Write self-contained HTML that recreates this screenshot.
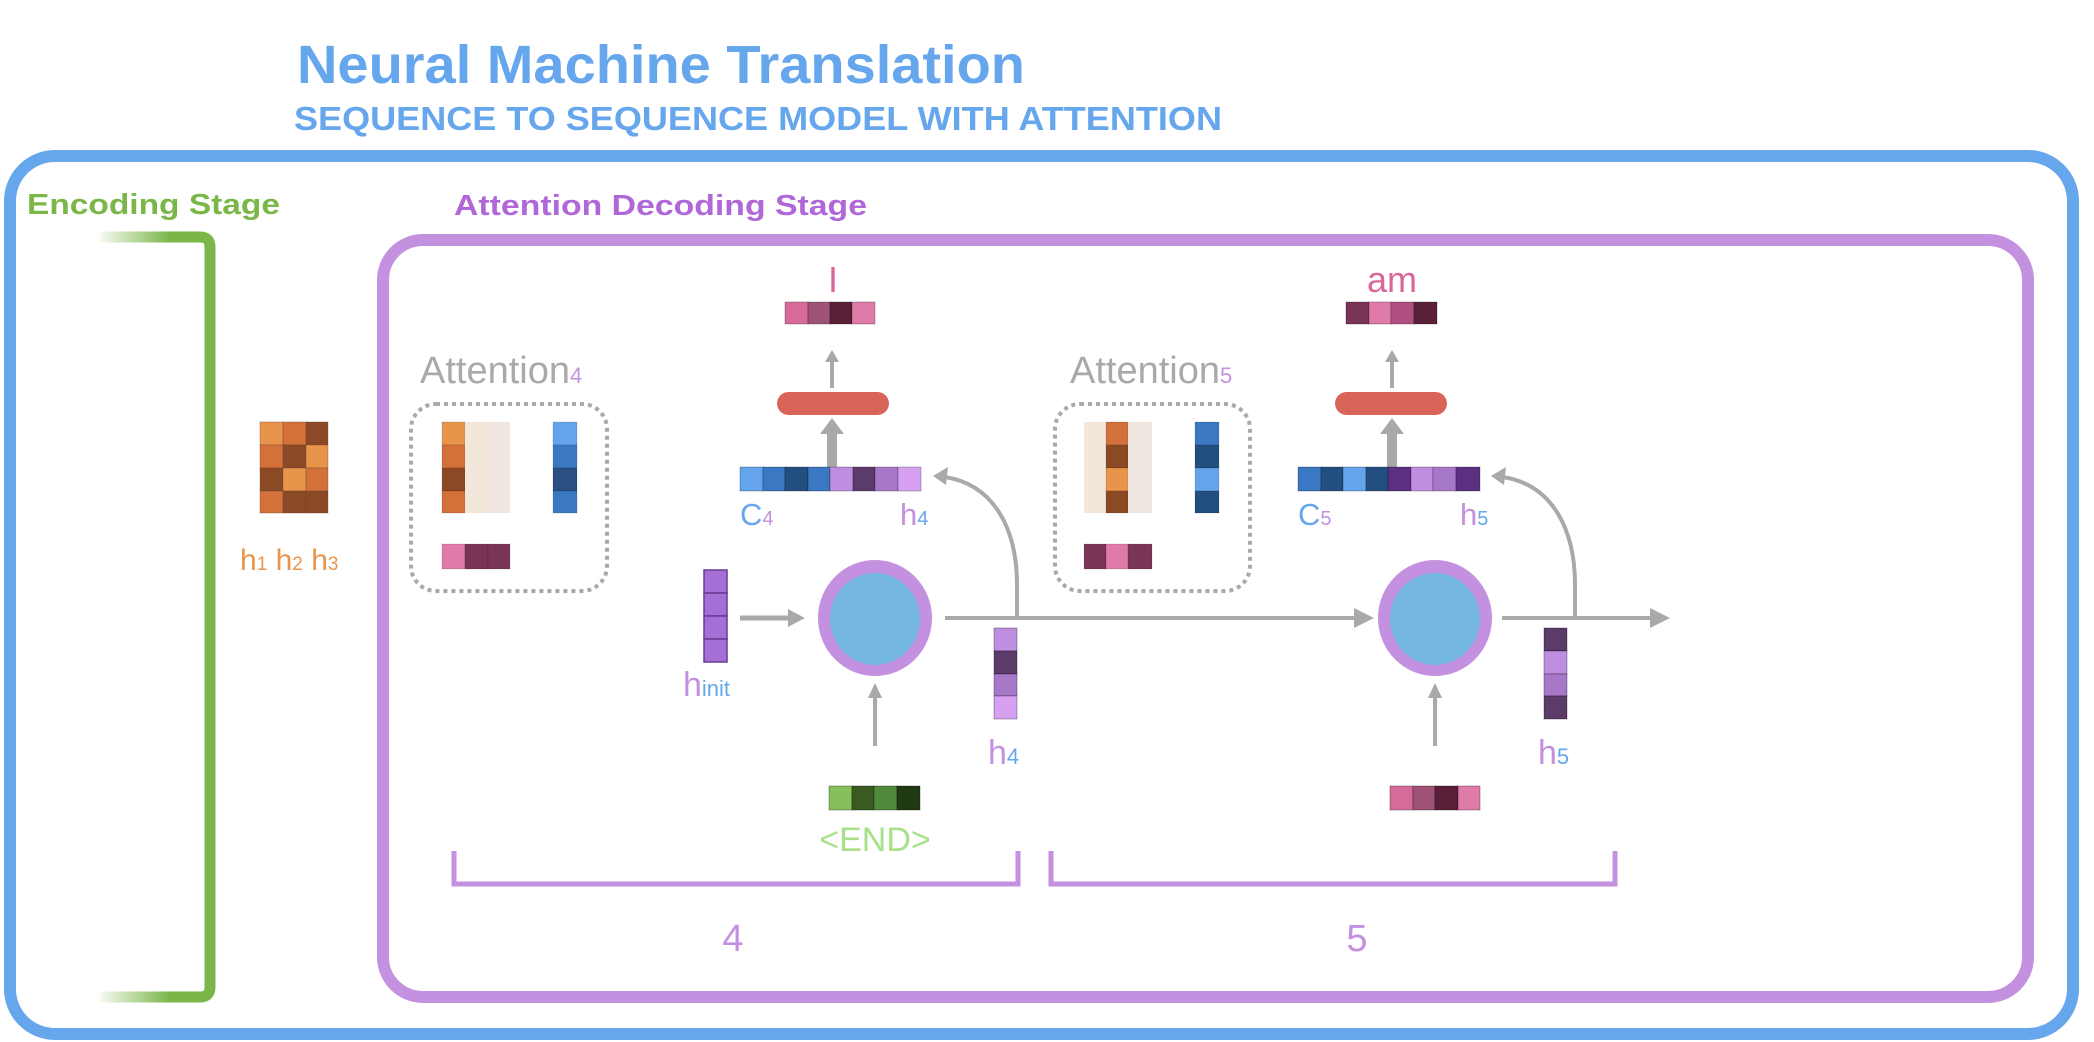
<!DOCTYPE html>
<html><head><meta charset="utf-8"><style>html,body{margin:0;padding:0;background:#fff;}svg{display:block}</style></head>
<body>
<svg width="2094" height="1042" viewBox="0 0 2094 1042" xmlns="http://www.w3.org/2000/svg" font-family="Liberation Sans, DejaVu Sans, sans-serif">
<defs>
<linearGradient id="wf" x1="0" x2="1"><stop offset="0" stop-color="#fff"/><stop offset="1" stop-color="#fff" stop-opacity="0"/></linearGradient>
</defs>
<text x="297" y="83" font-size="54" font-weight="bold" fill="#65a6ec" textLength="728" lengthAdjust="spacingAndGlyphs">Neural Machine Translation</text>
<text x="294" y="130" font-size="33" font-weight="bold" fill="#65a6ec" textLength="928" lengthAdjust="spacingAndGlyphs">SEQUENCE TO SEQUENCE MODEL WITH ATTENTION</text>
<rect x="10" y="156" width="2063" height="878" rx="45" fill="none" stroke="#65a6ec" stroke-width="12"/>
<text x="27" y="214" font-size="29" font-weight="bold" fill="#7ab648" textLength="253" lengthAdjust="spacingAndGlyphs">Encoding Stage</text>
<text x="454" y="215" font-size="29" font-weight="bold" fill="#b068d8" textLength="413" lengthAdjust="spacingAndGlyphs">Attention Decoding Stage</text>
<path d="M100,237 H200 Q210,237 210,247 V987 Q210,997 200,997 H100" fill="none" stroke="#7ab648" stroke-width="11"/>
<rect x="95" y="230" width="75" height="14" fill="url(#wf)"/>
<rect x="95" y="990" width="75" height="14" fill="url(#wf)"/>
<rect x="383" y="240" width="1645" height="757" rx="40" fill="none" stroke="#c490e0" stroke-width="12"/>

<g stroke="#6a4030" stroke-opacity="0.35" stroke-width="1">
<rect x="260" y="422" width="23" height="23" fill="#e8944a"/><rect x="283" y="422" width="23" height="23" fill="#d4703a"/><rect x="306" y="422" width="22" height="23" fill="#8b4a25"/>
<rect x="260" y="445" width="23" height="23" fill="#d4703a"/><rect x="283" y="445" width="23" height="23" fill="#8b4a25"/><rect x="306" y="445" width="22" height="23" fill="#e8944a"/>
<rect x="260" y="468" width="23" height="23" fill="#8b4a25"/><rect x="283" y="468" width="23" height="23" fill="#e8944a"/><rect x="306" y="468" width="22" height="23" fill="#d4703a"/>
<rect x="260" y="491" width="23" height="22" fill="#d4703a"/><rect x="283" y="491" width="23" height="22" fill="#8b4a25"/><rect x="306" y="491" width="22" height="22" fill="#8b4a25"/>
</g>
<text x="240" y="570" font-size="30" fill="#e8944a">h<tspan font-size="19">1</tspan> h<tspan font-size="19">2</tspan> h<tspan font-size="19">3</tspan></text>

<text x="420" y="383" font-size="38" fill="#a9a9a9">Attention<tspan font-size="22" fill="#c490e0">4</tspan></text>
<rect x="411" y="404" width="196" height="187" rx="25" fill="none" stroke="#a9a9a9" stroke-width="4" stroke-dasharray="4,4"/>
<g stroke="#000" stroke-opacity="0.12">
<rect x="442" y="422" width="23" height="23" fill="#e8944a"/><rect x="442" y="445" width="23" height="23" fill="#d4703a"/><rect x="442" y="468" width="23" height="23" fill="#8b4a25"/><rect x="442" y="491" width="23" height="22" fill="#d4703a"/>
<rect x="465" y="422" width="23" height="91" fill="#f3e6da" stroke="none"/><rect x="488" y="422" width="22" height="91" fill="#efe6e0" stroke="none"/>
<rect x="553" y="422" width="24" height="23" fill="#63a4ec"/><rect x="553" y="445" width="24" height="23" fill="#3a78c4"/><rect x="553" y="468" width="24" height="23" fill="#2a4f80"/><rect x="553" y="491" width="24" height="22" fill="#3a78c4"/>
<rect x="442" y="544" width="23" height="25" fill="#e07aa8"/><rect x="465" y="544" width="23" height="25" fill="#7a3556"/><rect x="488" y="544" width="22" height="25" fill="#7a3556"/>
</g>

<text x="1070" y="383" font-size="38" fill="#a9a9a9">Attention<tspan font-size="22" fill="#c490e0">5</tspan></text>
<rect x="1055" y="404" width="195" height="187" rx="25" fill="none" stroke="#a9a9a9" stroke-width="4" stroke-dasharray="4,4"/>
<g stroke="#000" stroke-opacity="0.12">
<rect x="1084" y="422" width="22" height="91" fill="#f3e6da" stroke="none"/>
<rect x="1106" y="422" width="22" height="23" fill="#d4703a"/><rect x="1106" y="445" width="22" height="23" fill="#8b4a25"/><rect x="1106" y="468" width="22" height="23" fill="#e8944a"/><rect x="1106" y="491" width="22" height="22" fill="#8b4a25"/>
<rect x="1128" y="422" width="24" height="91" fill="#efe6e0" stroke="none"/>
<rect x="1195" y="422" width="24" height="23" fill="#3a78c4"/><rect x="1195" y="445" width="24" height="23" fill="#234e80"/><rect x="1195" y="468" width="24" height="23" fill="#63a4ec"/><rect x="1195" y="491" width="24" height="22" fill="#234e80"/>
<rect x="1084" y="544" width="22" height="25" fill="#7a3556"/><rect x="1106" y="544" width="22" height="25" fill="#e07aa8"/><rect x="1128" y="544" width="24" height="25" fill="#7a3556"/>
</g>

<text x="833" y="292" font-size="36" fill="#d9669a" text-anchor="middle">I</text>
<g stroke="#000" stroke-opacity="0.25">
<rect x="785" y="302" width="23" height="22" fill="#d66b9a"/><rect x="808" y="302" width="22" height="22" fill="#a05276"/><rect x="830" y="302" width="22" height="22" fill="#5a2038"/><rect x="852" y="302" width="23" height="22" fill="#e07aa8"/>
</g>
<line x1="832" y1="388" x2="832" y2="360" stroke="#a9a9a9" stroke-width="4"/>
<path d="M825,362 L832,350 L839,362 z" fill="#a9a9a9"/>
<rect x="777" y="392" width="112" height="23" rx="11.5" fill="#d9655a"/>
<rect x="827" y="432" width="10" height="36" fill="#a9a9a9"/>
<path d="M820,434 L832,418 L844,434 z" fill="#a9a9a9"/>
<g stroke="#000" stroke-opacity="0.25">
<rect x="740" y="467" width="23" height="24" fill="#63a4ec"/><rect x="763" y="467" width="22" height="24" fill="#3a78c4"/><rect x="785" y="467" width="23" height="24" fill="#234e80"/><rect x="808" y="467" width="22" height="24" fill="#3a78c4"/>
<rect x="830" y="467" width="23" height="24" fill="#c08ee0"/><rect x="853" y="467" width="22" height="24" fill="#5c3a6a"/><rect x="875" y="467" width="23" height="24" fill="#a878c8"/><rect x="898" y="467" width="23" height="24" fill="#d8a0f0"/>
</g>
<text x="740" y="525" font-size="31" fill="#65a6ec">C<tspan font-size="20" fill="#c490e0">4</tspan></text>
<text x="900" y="525" font-size="31" fill="#c490e0">h<tspan font-size="20" fill="#65a6ec">4</tspan></text>
<path d="M1017,618 V585 C1017,530 995,485 945,477" fill="none" stroke="#a9a9a9" stroke-width="4"/>
<path d="M933,476 L948,467 L946,485 z" fill="#a9a9a9"/>

<text x="1392" y="292" font-size="36" fill="#d9669a" text-anchor="middle">am</text>
<g stroke="#000" stroke-opacity="0.25">
<rect x="1346" y="302" width="23" height="22" fill="#7a3556"/><rect x="1369" y="302" width="22" height="22" fill="#e07aa8"/><rect x="1391" y="302" width="23" height="22" fill="#b05080"/><rect x="1414" y="302" width="23" height="22" fill="#5a2038"/>
</g>
<line x1="1392" y1="388" x2="1392" y2="360" stroke="#a9a9a9" stroke-width="4"/>
<path d="M1385,362 L1392,350 L1399,362 z" fill="#a9a9a9"/>
<rect x="1335" y="392" width="112" height="23" rx="11.5" fill="#d9655a"/>
<rect x="1387" y="432" width="10" height="36" fill="#a9a9a9"/>
<path d="M1380,434 L1392,418 L1404,434 z" fill="#a9a9a9"/>
<g stroke="#000" stroke-opacity="0.25">
<rect x="1298" y="467" width="23" height="24" fill="#3a78c4"/><rect x="1321" y="467" width="22" height="24" fill="#234e80"/><rect x="1343" y="467" width="23" height="24" fill="#63a4ec"/><rect x="1366" y="467" width="22" height="24" fill="#234e80"/>
<rect x="1388" y="467" width="23" height="24" fill="#5c3080"/><rect x="1411" y="467" width="22" height="24" fill="#c08ee0"/><rect x="1433" y="467" width="23" height="24" fill="#a878c8"/><rect x="1456" y="467" width="24" height="24" fill="#5c3080"/>
</g>
<text x="1298" y="525" font-size="31" fill="#65a6ec">C<tspan font-size="20" fill="#c490e0">5</tspan></text>
<text x="1460" y="525" font-size="31" fill="#c490e0">h<tspan font-size="20" fill="#65a6ec">5</tspan></text>
<path d="M1575,618 V585 C1575,530 1553,485 1503,477" fill="none" stroke="#a9a9a9" stroke-width="4"/>
<path d="M1491,476 L1506,467 L1504,485 z" fill="#a9a9a9"/>

<g stroke="#6a3a90" stroke-width="1.5">
<rect x="704" y="570" width="23" height="23" fill="#a56fd8"/><rect x="704" y="593" width="23" height="23" fill="#a56fd8"/><rect x="704" y="616" width="23" height="23" fill="#a56fd8"/><rect x="704" y="639" width="23" height="23" fill="#a56fd8"/>
</g>
<text x="683" y="696" font-size="34" fill="#c490e0">h<tspan font-size="22" fill="#65a6ec">init</tspan></text>
<line x1="740" y1="618" x2="792" y2="618" stroke="#a9a9a9" stroke-width="5"/>
<path d="M788,609 L805,618 L788,627 z" fill="#a9a9a9"/>

<ellipse cx="875" cy="618" rx="57" ry="58" fill="#c490e0"/>
<ellipse cx="875" cy="619" rx="45" ry="46" fill="#74b8e2"/>
<ellipse cx="1435" cy="618" rx="57" ry="58" fill="#c490e0"/>
<ellipse cx="1435" cy="619" rx="45" ry="46" fill="#74b8e2"/>

<line x1="945" y1="618" x2="1362" y2="618" stroke="#a9a9a9" stroke-width="4"/>
<path d="M1354,608 L1374,618 L1354,628 z" fill="#a9a9a9"/>
<line x1="1502" y1="618" x2="1655" y2="618" stroke="#a9a9a9" stroke-width="4"/>
<path d="M1650,608 L1670,618 L1650,628 z" fill="#a9a9a9"/>

<line x1="875" y1="746" x2="875" y2="695" stroke="#a9a9a9" stroke-width="4"/>
<path d="M868,698 L875,683 L882,698 z" fill="#a9a9a9"/>
<line x1="1435" y1="746" x2="1435" y2="695" stroke="#a9a9a9" stroke-width="4"/>
<path d="M1428,698 L1435,683 L1442,698 z" fill="#a9a9a9"/>

<g stroke="#000" stroke-opacity="0.3">
<rect x="994" y="628" width="23" height="23" fill="#c08ee0"/><rect x="994" y="651" width="23" height="23" fill="#5c3a6a"/><rect x="994" y="674" width="23" height="22" fill="#a878c8"/><rect x="994" y="696" width="23" height="23" fill="#d8a0f0"/>
<rect x="1544" y="628" width="23" height="23" fill="#5c3a6a"/><rect x="1544" y="651" width="23" height="23" fill="#c08ee0"/><rect x="1544" y="674" width="23" height="22" fill="#a878c8"/><rect x="1544" y="696" width="23" height="23" fill="#5c3a6a"/>
</g>
<text x="988" y="764" font-size="34" fill="#c490e0">h<tspan font-size="22" fill="#65a6ec">4</tspan></text>
<text x="1538" y="764" font-size="34" fill="#c490e0">h<tspan font-size="22" fill="#65a6ec">5</tspan></text>

<g stroke="#000" stroke-opacity="0.3">
<rect x="829" y="786" width="23" height="24" fill="#86c05a"/><rect x="852" y="786" width="22" height="24" fill="#3a5a22"/><rect x="874" y="786" width="23" height="24" fill="#508a3a"/><rect x="897" y="786" width="23" height="24" fill="#203a14"/>
<rect x="1390" y="786" width="23" height="24" fill="#d66b9a"/><rect x="1413" y="786" width="22" height="24" fill="#a05276"/><rect x="1435" y="786" width="23" height="24" fill="#5a2038"/><rect x="1458" y="786" width="22" height="24" fill="#e07aa8"/>
</g>
<text x="875" y="851" font-size="34" fill="#a8e08a" text-anchor="middle">&lt;END&gt;</text>

<path d="M454,851 V884 H1018 V851" fill="none" stroke="#c490e0" stroke-width="5"/>
<path d="M1051,851 V884 H1615 V851" fill="none" stroke="#c490e0" stroke-width="5"/>
<text x="733" y="951" font-size="38" fill="#c490e0" text-anchor="middle">4</text>
<text x="1357" y="951" font-size="38" fill="#c490e0" text-anchor="middle">5</text>
</svg>
</body></html>
